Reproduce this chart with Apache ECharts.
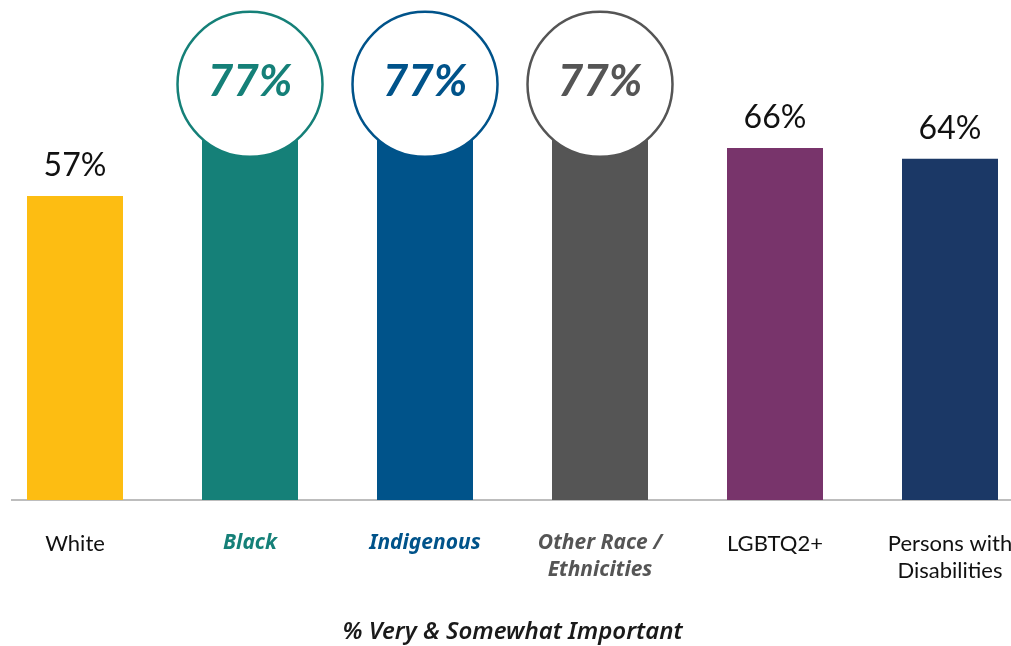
<!DOCTYPE html>
<html>
<head>
<meta charset="utf-8">
<script src="https://cdn.jsdelivr.net/npm/echarts@6/dist/echarts.min.js"></script>
<style>
  html, body { margin: 0; padding: 0; background: #ffffff; }
  #chart { width: 1011px; height: 646px; }
</style>
</head>
<body>
<div id="chart"></div>
<script>
// Groups and share rating each as "very or somewhat important"
const categories = ['White', 'Black', 'Indigenous', 'Other Race /\nEthnicities', 'LGBTQ2+', 'Persons with\nDisabilities'];
const values = [57, 77, 77, 77, 66, 64];
const barColors = ['#FDBD12', '#158078', '#00538A', '#555555', '#78346B', '#1B3866'];
// Groups called out with a ringed value badge
const highlighted = [false, true, true, true, false, false];
const axisTitle = '% Very & Somewhat Important';

const FONT = 'Lato, "Noto Sans", sans-serif';
const FONT_EMPH = '"Noto Sans", Lato, sans-serif';

const labelRich = {};
categories.forEach((c, i) => {
  labelRich['c' + i] = {
    fontFamily: highlighted[i] ? FONT_EMPH : FONT,
    fontSize: highlighted[i] ? 21 : 22,
    lineHeight: 27,
    color: highlighted[i] ? barColors[i] : '#111111',
    fontWeight: highlighted[i] ? 'bold' : 'normal',
    fontStyle: highlighted[i] ? 'italic' : 'normal'
  };
});

const chart = echarts.init(document.getElementById('chart'), null, { renderer: 'canvas' });

const option = {
  backgroundColor: '#ffffff',
  animation: false,
  grid: { left: -12.5, right: -26.5, top: 20, bottom: 146, outerBoundsMode: 'none', containLabel: false },
  xAxis: {
    type: 'category',
    data: categories,
    axisLine: { show: false },
    axisTick: { show: false },
    axisLabel: {
      interval: 0,
      margin: 30,
      verticalAlign: 'top',
      formatter: function (val, idx) {
        return val.split('\n').map(line => '{c' + idx + '|' + line + '}').join('\n');
      },
      rich: labelRich
    },
    name: axisTitle,
    nameLocation: 'middle',
    nameGap: 120,
    nameTextStyle: {
      fontFamily: FONT_EMPH,
      fontSize: 24,
      fontWeight: 600,
      fontStyle: 'italic',
      color: '#1a1a1a'
    }
  },
  yAxis: {
    type: 'value',
    min: 0,
    max: 90,
    show: false,
    splitLine: { show: false }
  },
  series: [
    {
      type: 'bar',
      barWidth: 96,
      data: values.map((v, i) => ({ value: v, itemStyle: { color: barColors[i] } })),
      label: {
        show: true,
        position: 'top',
        distance: 14,
        fontFamily: FONT,
        fontSize: 32,
        color: '#111111',
        formatter: function (p) { return highlighted[p.dataIndex] ? '' : p.value + '%'; }
      },
      z: 2
    },
    {
      type: 'scatter',
      symbol: 'circle',
      symbolSize: 145,
      symbolOffset: [0, -5],
      data: values.map((v, i) => highlighted[i] ? {
        value: v,
        itemStyle: { color: '#ffffff', borderColor: barColors[i], borderWidth: 2.5, opacity: 1 },
        label: { color: barColors[i] }
      } : '-'),
      label: {
        show: true,
        position: 'inside',
        offset: [0, -3],
        fontFamily: FONT,
        fontSize: 44,
        fontWeight: 'bold',
        fontStyle: 'italic',
        formatter: function (p) { return p.value + '%'; }
      },
      emphasis: { disabled: true },
      z: 5
    }
  ]
};

chart.setOption(option);

// Baseline rule along the zero line, starting just inside the left edge
const y0 = chart.convertToPixel({ yAxisIndex: 0 }, 0);
chart.setOption({
  graphic: [{
    type: 'line',
    shape: { x1: 11, y1: y0, x2: 1011, y2: y0 },
    style: { stroke: '#BDBDBD', lineWidth: 2 },
    z: 1
  }]
});
</script>
</body>
</html>
